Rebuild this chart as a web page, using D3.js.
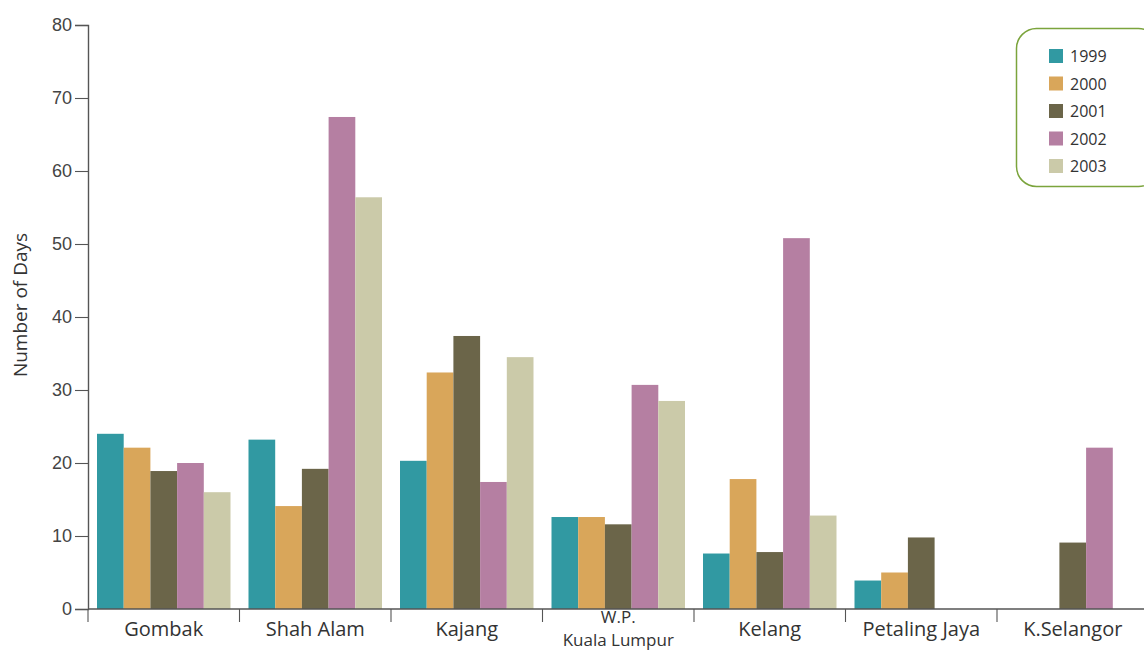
<!DOCTYPE html>
<html>
<head>
<meta charset="utf-8">
<script src="https://cdn.jsdelivr.net/npm/d3@7"></script>
<style>
  html, body { margin: 0; padding: 0; background: #fff; }
  svg { display: block; font-family: "Open Sans", "DejaVu Sans", sans-serif; }
</style>
</head>
<body>
<svg id="chart" width="1144" height="655"></svg>
<script>
// Districts along the x axis
const districts = ["Gombak", "Shah Alam", "Kajang", "W.P.\nKuala Lumpur", "Kelang", "Petaling Jaya", "K.Selangor"];
// Years shown as grouped bars
const years = ["1999", "2000", "2001", "2002", "2003"];
// Number of days per year, one entry per district (null = no bar)
const days1999 = [24.0, 23.2, 20.3, 12.6, 7.6, 3.9, null];
const days2000 = [22.1, 14.1, 32.4, 12.6, 17.8, 5.0, null];
const days2001 = [18.9, 19.2, 37.4, 11.6, 7.8, 9.8, 9.1];
const days2002 = [20.0, 67.4, 17.4, 30.7, 50.8, null, 22.1];
const days2003 = [16.0, 56.4, 34.5, 28.5, 12.8, null, null];
const yTicks = [0, 10, 20, 30, 40, 50, 60, 70, 80];

const series = [days1999, days2000, days2001, days2002, days2003];
const colors = ["#3199a2", "#d9a65a", "#6b6549", "#b57fa2", "#cbcaa9"];

const svg = d3.select("#chart");
const x0 = 88, baseY = 609, topY = 25;

const y = d3.scaleLinear().domain([0, 80]).range([baseY, topY]);
const xBand = d3.scaleBand().domain(districts).range([x0, x0 + 7 * 151.5]).padding(0);
const xSub = d3.scaleBand().domain(years).range([9, 142.5]).padding(0);
const color = d3.scaleOrdinal().domain(years).range(colors);

// Bars
const rows = [];
districts.forEach((d, i) => {
  years.forEach((yr, j) => {
    const v = series[j][i];
    if (v != null) rows.push({ district: d, year: yr, value: v });
  });
});

svg.append("g").selectAll("rect")
  .data(rows)
  .join("rect")
  .attr("x", d => xBand(d.district) + xSub(d.year))
  .attr("width", xSub.bandwidth())
  .attr("y", d => y(d.value))
  .attr("height", d => baseY - y(d.value))
  .attr("fill", d => color(d.year));

// Y axis
const yAxis = d3.axisLeft(y).tickValues(yTicks).tickSize(13).tickPadding(3);
const gy = svg.append("g").attr("transform", `translate(${x0},0)`).call(yAxis);
gy.select(".domain").attr("stroke", "#555").attr("stroke-width", 1.4);
gy.selectAll(".tick line").attr("stroke", "#555").attr("stroke-width", 1.1);
gy.selectAll(".tick text").attr("fill", "#444").attr("font-size", 18);

// X axis baseline with separators between districts
svg.append("line")
  .attr("x1", x0).attr("x2", 1144)
  .attr("y1", baseY).attr("y2", baseY)
  .attr("stroke", "#555").attr("stroke-width", 1.4);

const sepX = districts.map(d => xBand(d));
svg.append("g").selectAll("line")
  .data(sepX)
  .join("line")
  .attr("x1", d => d).attr("x2", d => d)
  .attr("y1", baseY).attr("y2", baseY + 13)
  .attr("stroke", "#555").attr("stroke-width", 1.1);

// District labels; a two-line name gets one text element per line
const labelLines = [];
districts.forEach(d => {
  const parts = d.split("\n");
  parts.forEach((p, k) => {
    labelLines.push({
      district: d,
      text: p,
      size: parts.length === 1 ? 20 : 17,
      baseline: parts.length === 1 ? 636 : 622.5 + k * 23.5
    });
  });
});

svg.append("g").selectAll("text")
  .data(labelLines)
  .join("text")
  .attr("x", d => xBand(d.district) + xBand.bandwidth() / 2)
  .attr("y", d => d.baseline)
  .attr("text-anchor", "middle")
  .attr("font-size", d => d.size)
  .attr("fill", "#333")
  .text(d => d.text);

// Y axis title
svg.append("text")
  .attr("transform", "translate(27,305) rotate(-90)")
  .attr("text-anchor", "middle")
  .attr("fill", "#333")
  .attr("font-size", 19)
  .text("Number of Days");

// Legend
const leg = svg.append("g");
leg.append("rect")
  .attr("x", 1016.5).attr("y", 28.5)
  .attr("width", 142).attr("height", 158)
  .attr("rx", 20).attr("ry", 20)
  .attr("fill", "none")
  .attr("stroke", "#7ba43c").attr("stroke-width", 1.5);

const items = leg.selectAll("g.item")
  .data(years)
  .join("g")
  .attr("class", "item")
  .attr("transform", (d, i) => `translate(1049,${56 + i * 27.5})`);

items.append("rect")
  .attr("x", 0).attr("y", -7)
  .attr("width", 14).attr("height", 14)
  .attr("fill", d => color(d));

items.append("text")
  .attr("x", 21).attr("y", 6)
  .attr("font-size", 16)
  .attr("fill", "#333")
  .text(d => d);
</script>
</body>
</html>
